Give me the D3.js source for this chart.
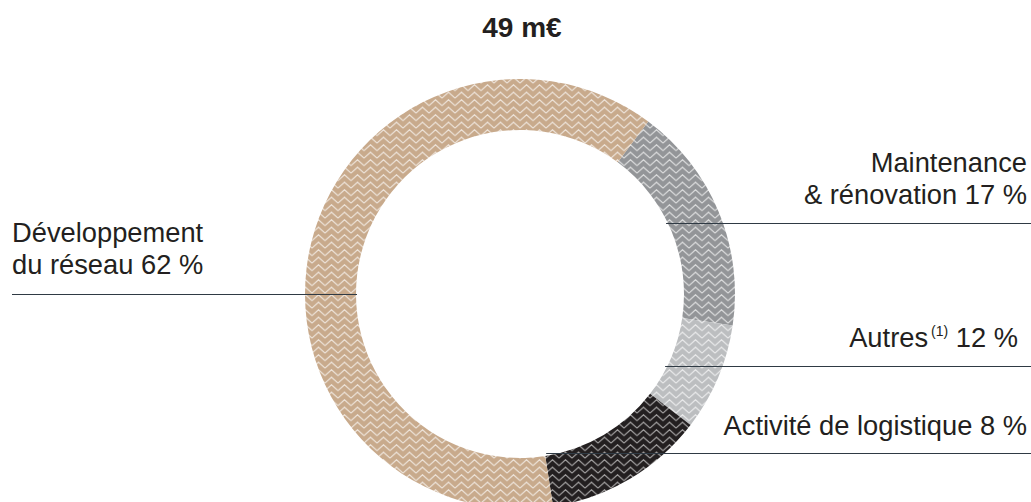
<!DOCTYPE html>
<html><head><meta charset="utf-8">
<script src="https://cdn.jsdelivr.net/npm/d3@7"></script>
<style>body{margin:0;background:#fff}svg{display:block}text{font-family:"Liberation Sans",Arial,Helvetica,sans-serif;fill:#231f20}</style>
</head><body><svg id="c" width="1031" height="502"></svg>
<script>
// Slices (drawing order, clockwise from top-right)
const sliceNames = ["Maintenance & rénovation", "Slice 2", "Slice 3", "Développement du réseau"];
const values = [17, 8, 12, 62];
const colors = ["#939598", "#bcbec0", "#231f20", "#c8aa8c"];
const title = "49 m€";
// Labels as shown (top to bottom on the right, then left)
const labelTexts = [
  ["Maintenance", "& rénovation 17 %"],
  ["Autres|(1)| 12 %"],
  ["Activité de logistique 8 %"],
  ["Développement", "du réseau 62 %"]
];
const labelSides = ["right", "right", "right", "left"];

const W = 1031, H = 502;
const cx = 520, cy = 294, R = 215, r = 164;
const svg = d3.select("#c");
const defs = svg.append("defs");

const pw = 13, ph = 7.5, amp = 6;
colors.forEach((c, i) => {
  const p = defs.append("pattern").attr("id", "pat" + i)
    .attr("patternUnits", "userSpaceOnUse").attr("width", pw).attr("height", ph);
  p.append("rect").attr("width", pw).attr("height", ph).attr("fill", c);
  let d = "";
  for (let k = -1; k <= 1; k++) {
    const y0 = ph - 0.8 + k * ph;
    d += `M0,${y0} L${pw / 2},${y0 - amp} L${pw},${y0} `;
  }
  p.append("path").attr("d", d)
    .attr("fill", "none").attr("stroke", "#fff")
    .attr("stroke-opacity", i === 2 ? 0.6 : 0.7).attr("stroke-width", 1.1);
});

const startAngle = 36.6 * Math.PI / 180;
const pie = d3.pie().sort(null).startAngle(startAngle).endAngle(startAngle + 2 * Math.PI);
const arcs = pie(values);
const arc = d3.arc().innerRadius(r).outerRadius(R);
const g = svg.append("g").attr("transform", `translate(${cx},${cy})`);
g.selectAll("path").data(arcs).join("path")
  .attr("d", arc).attr("fill", (d, i) => `url(#pat${i})`);

svg.append("text").attr("x", 522).attr("y", 37).attr("text-anchor", "middle")
  .attr("font-size", 28).attr("font-weight", "bold").text(title);

const leaderY = [223, 366, 453, 294];
const baseOff = [19, 19, 18, 20];
const lineColor = "#2f3a44";
const fs = 27.3, lh = 32;

function innerX(y, side) {
  const dy = y - cy;
  const dx = Math.sqrt(Math.max(0, r * r - dy * dy));
  return side === "right" ? cx + dx : cx - dx;
}

labelTexts.forEach((lines, i) => {
  const side = labelSides[i];
  const ly = leaderY[i] + 0.5;
  const x1 = innerX(ly, side);
  const line = svg.append("line").attr("y1", ly).attr("y2", ly)
    .attr("stroke", lineColor).attr("stroke-width", 1.2);
  if (side === "right") line.attr("x1", i === 2 ? x1 - 12 : x1 - 2).attr("x2", W);
  else line.attr("x1", 12).attr("x2", x1 + 1);
  const n = lines.length;
  lines.forEach((t, k) => {
    const by = leaderY[i] - baseOff[i] - (n - 1 - k) * lh;
    const tx = side === "right" ? (t.includes("|") ? 1018 : 1027) : 12;
    const te = svg.append("text").attr("x", tx).attr("y", by)
      .attr("font-size", fs).attr("text-anchor", side === "right" ? "end" : "start");
    if (t.includes("|")) {
      const parts = t.split("|");
      te.append("tspan").text(parts[0]);
      te.append("tspan").attr("font-size", 14).attr("dx", 3).attr("dy", -11).text(parts[1]);
      te.append("tspan").attr("dy", 11).text(parts[2]);
    } else te.text(t);
  });
});
</script></body></html>
